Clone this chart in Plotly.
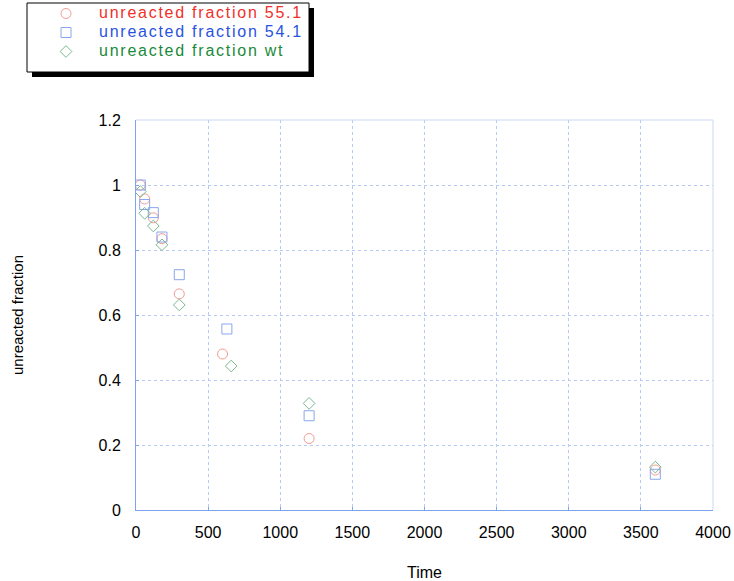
import plotly.graph_objects as go

time_551 = [30, 60, 120, 180, 300, 600, 1200, 3600]
frac_551 = [1.0, 0.957, 0.899, 0.835, 0.665, 0.48, 0.22, 0.123]

time_541 = [30, 60, 120, 180, 300, 630, 1200, 3600]
frac_541 = [1.0, 0.94, 0.915, 0.84, 0.724, 0.557, 0.29, 0.11]

time_wt = [30, 60, 120, 180, 300, 660, 1200, 3600]
frac_wt = [0.98, 0.913, 0.874, 0.816, 0.631, 0.443, 0.328, 0.132]

x_ticks = [0, 500, 1000, 1500, 2000, 2500, 3000, 3500, 4000]
y_ticks = [0, 0.2, 0.4, 0.6, 0.8, 1, 1.2]
y_labels = ["0", "0.2", "0.4", "0.6", "0.8", "1", "1.2"]

FONT = "Liberation Sans, Arial, sans-serif"
AXIS_BLUE = "#7ea3ee"
GRID_BLUE = "#b6caf4"
FRAME_BLUE = "#c9d8f8"

# plot-area pixel geometry
L, R, T, B = 136, 21, 120, 71
W, H = 734, 581
PW, PH = W - L - R, H - T - B


def px_x(p):
    return (p - L) / PW


def px_y(p):
    return (H - B - p) / PH


def legend_name(text, color):
    return ('<span style="color:%s;font-size:16px;letter-spacing:1.75px">%s</span>'
            % (color, text))


fig = go.Figure()
fig.add_trace(go.Scatter(
    x=time_551, y=frac_551, mode="markers",
    name=legend_name("unreacted fraction 55.1", "#f0302a"),
    marker=dict(symbol="circle-open", size=10, color="#f39a94", line=dict(width=1)),
))
fig.add_trace(go.Scatter(
    x=time_541, y=frac_541, mode="markers",
    name=legend_name("unreacted fraction 54.1", "#2a52e0"),
    marker=dict(symbol="square-open", size=10, color="#8aa6ee", line=dict(width=1)),
))
fig.add_trace(go.Scatter(
    x=time_wt, y=frac_wt, mode="markers",
    name=legend_name("unreacted fraction wt", "#1a8a3a"),
    marker=dict(symbol="diamond-open", size=9, color="#7ab890", line=dict(width=1)),
))

axis_common = dict(
    showline=True, linecolor=AXIS_BLUE, linewidth=1, mirror=False,
    showgrid=True, gridcolor=GRID_BLUE, griddash="dot", gridwidth=1,
    ticks="inside", ticklen=3, tickcolor=AXIS_BLUE,
    zeroline=False, automargin=False,
    tickfont=dict(family=FONT, size=16, color="#000000"),
)

fig.update_layout(
    width=W, height=H,
    margin=dict(l=L, r=R, t=T, b=B, autoexpand=False),
    paper_bgcolor="white", plot_bgcolor="white",
    font=dict(family=FONT, color="#000000"),
    showlegend=True,
    legend=dict(
        x=px_x(33), y=px_y(-1), xanchor="left", yanchor="top",
        bgcolor="rgba(0,0,0,0)", borderwidth=0,
        font=dict(family=FONT, size=11.5),
        itemwidth=56, tracegroupgap=0,
    ),
    xaxis=dict(
        range=[0, 4000], tickvals=x_ticks, ticktext=[str(v) for v in x_ticks],
        ticklabelstandoff=8,
        title=dict(text="Time", font=dict(family=FONT, size=16), standoff=31),
        **axis_common,
    ),
    yaxis=dict(
        range=[0, 1.2], tickvals=y_ticks, ticktext=y_labels,
        ticklabelstandoff=11,
        title=dict(text="unreacted fraction", font=dict(family=FONT, size=15), standoff=71),
        **axis_common,
    ),
)

# light top and right frame lines
fig.add_shape(type="line", xref="paper", yref="paper", x0=0, x1=1, y0=1, y1=1,
              line=dict(color=FRAME_BLUE, width=1))
fig.add_shape(type="line", xref="paper", yref="paper", x0=1, x1=1, y0=0, y1=1,
              line=dict(color=FRAME_BLUE, width=1))

# legend drop shadow and box
fig.add_shape(
    type="rect", xref="paper", yref="paper", layer="below",
    x0=px_x(32), x1=px_x(314), y0=px_y(77), y1=px_y(8),
    fillcolor="#000000", line=dict(width=0),
)
fig.add_shape(
    type="rect", xref="paper", yref="paper", layer="below",
    x0=px_x(27), x1=px_x(309), y0=px_y(72), y1=px_y(3),
    fillcolor="#ffffff", line=dict(color="#000000", width=1),
)

fig.write_html("out.html")
